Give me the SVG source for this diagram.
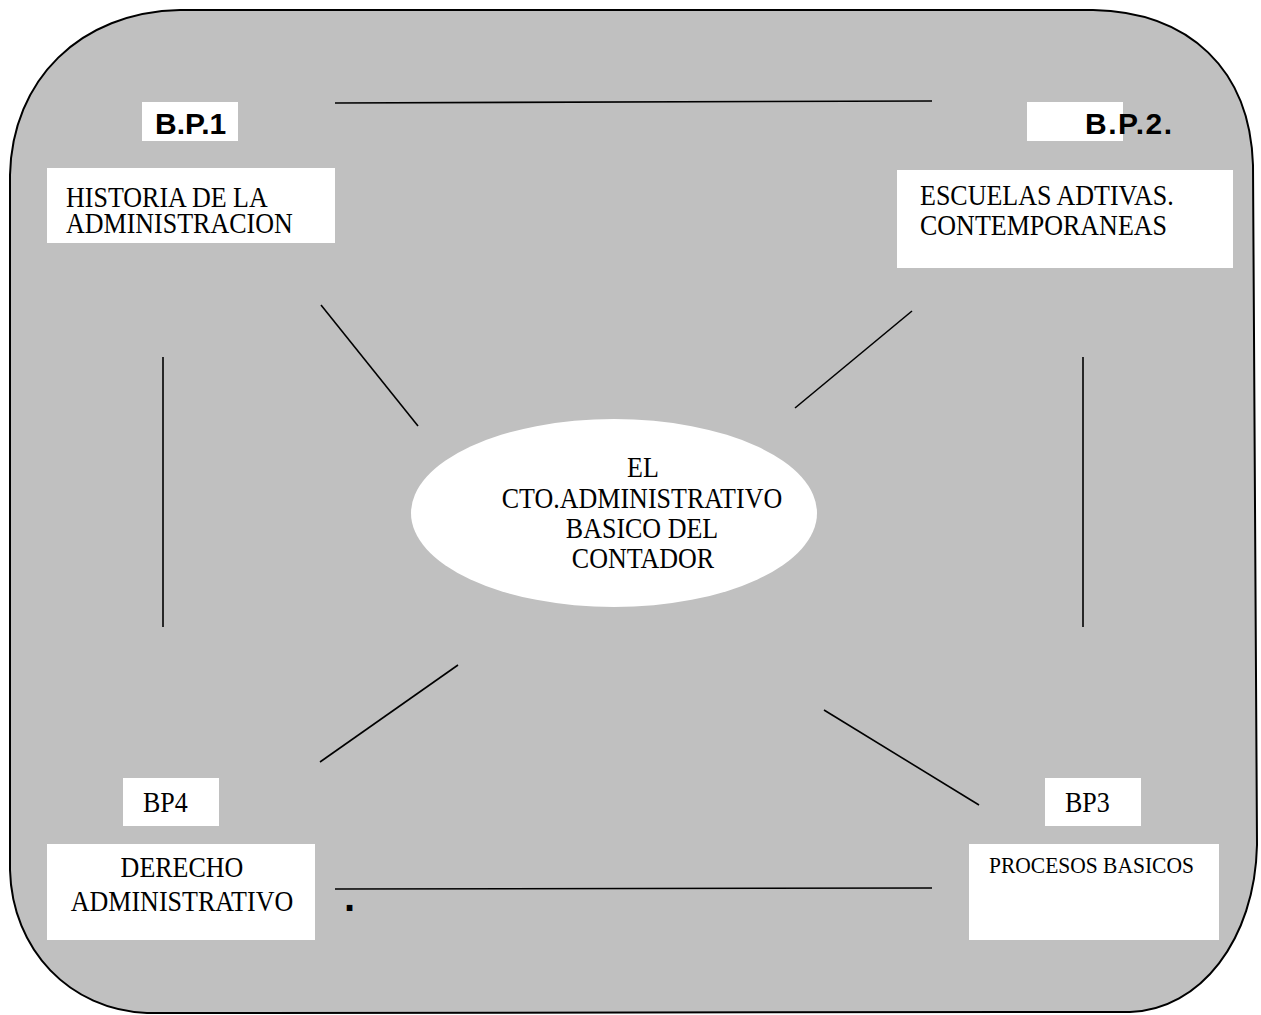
<svg xmlns="http://www.w3.org/2000/svg" width="1261" height="1015" viewBox="0 0 1261 1015">
<style>
.box{fill:#ffffff;stroke:none}
.serif{font-family:"Liberation Serif","Times New Roman",serif;fill:#000}
.t26{font-size:26px}
.t21{font-size:21.5px}
.bold{font-family:"Liberation Sans",Arial,sans-serif;font-weight:bold;font-size:30px;fill:#000}
.conn line{stroke:#000;stroke-width:1.6}
</style>
<rect width="1261" height="1015" fill="#ffffff"/>
<g id="frame">
<path d="M 180,10 L 1093,10 C 1190,12 1250,70 1253,165 L 1257,845 C 1255,940 1200,1010 1130,1012 L 147,1013 C 70,1010 12,950 10,870 L 10,175 C 12,80 80,12 180,10 Z" fill="#c0c0c0" stroke="#000" stroke-width="2"/>
</g>
<g class="conn" id="connectors">
<line x1="335" y1="103" x2="932" y2="101"/>
<line x1="321" y1="305" x2="418" y2="426"/>
<line x1="912" y1="311" x2="795" y2="408"/>
<line x1="163" y1="357" x2="163" y2="627"/>
<line x1="1083" y1="357" x2="1083" y2="627"/>
<line x1="458" y1="665" x2="320" y2="762"/>
<line x1="824" y1="710" x2="979" y2="805"/>
<line x1="335" y1="889" x2="932" y2="888"/>
</g>
<g id="bp1">
<rect class="box" x="142" y="102" width="96" height="39"/>
<text class="bold" x="155" y="134">B.P.1</text>
</g>
<g id="historia">
<rect class="box" x="47" y="168" width="288" height="75"/>
<text class="serif t26" x="66" y="0" transform="translate(0,207) scale(1,1.1)">HISTORIA DE LA</text>
<text class="serif t26" x="66" y="0" transform="translate(0,233) scale(1,1.1)">ADMINISTRACION</text>
</g>
<g id="bp2">
<rect class="box" x="1027" y="102" width="96" height="39"/>
<text class="bold" x="1085" y="134" style="letter-spacing:1.5px">B.P.2.</text>
</g>
<g id="escuelas">
<rect class="box" x="897" y="170" width="336" height="98"/>
<text class="serif t26" x="920" y="0" transform="translate(0,205) scale(1,1.1)">ESCUELAS ADTIVAS.</text>
<text class="serif t26" x="920" y="0" transform="translate(0,235) scale(1,1.1)">CONTEMPORANEAS</text>
</g>
<g id="center">
<ellipse cx="614" cy="513" rx="203" ry="94" fill="#ffffff"/>
<text class="serif t26" text-anchor="middle" x="643" y="0" transform="translate(0,477) scale(1,1.1)">EL</text>
<text class="serif t26" text-anchor="middle" x="642" y="0" transform="translate(0,508) scale(1,1.1)">CTO.ADMINISTRATIVO</text>
<text class="serif t26" text-anchor="middle" x="642" y="0" transform="translate(0,538) scale(1,1.1)">BASICO DEL</text>
<text class="serif t26" text-anchor="middle" x="643" y="0" transform="translate(0,568) scale(1,1.1)">CONTADOR</text>
</g>
<g id="bp4">
<rect class="box" x="123" y="778" width="96" height="48"/>
<text class="serif t26" x="143" y="0" transform="translate(0,812) scale(1,1.1)">BP4</text>
</g>
<g id="derecho">
<rect class="box" x="47" y="844" width="268" height="96"/>
<text class="serif t26" text-anchor="middle" x="182" y="0" transform="translate(0,877) scale(1,1.1)">DERECHO</text>
<text class="serif t26" text-anchor="middle" x="182" y="0" transform="translate(0,911) scale(1,1.1)">ADMINISTRATIVO</text>
</g>
<g id="bp3">
<rect class="box" x="1045" y="778" width="96" height="48"/>
<text class="serif t26" x="1065" y="0" transform="translate(0,812) scale(1,1.1)">BP3</text>
</g>
<g id="procesos">
<rect class="box" x="969" y="844" width="250" height="96"/>
<text class="serif t21" x="989" y="0" transform="translate(0,873) scale(1,1.1)">PROCESOS BASICOS</text>
</g>
<g id="dot">
<text class="bold" x="344" y="911" style="font-size:40px">.</text>
</g>
</svg>
